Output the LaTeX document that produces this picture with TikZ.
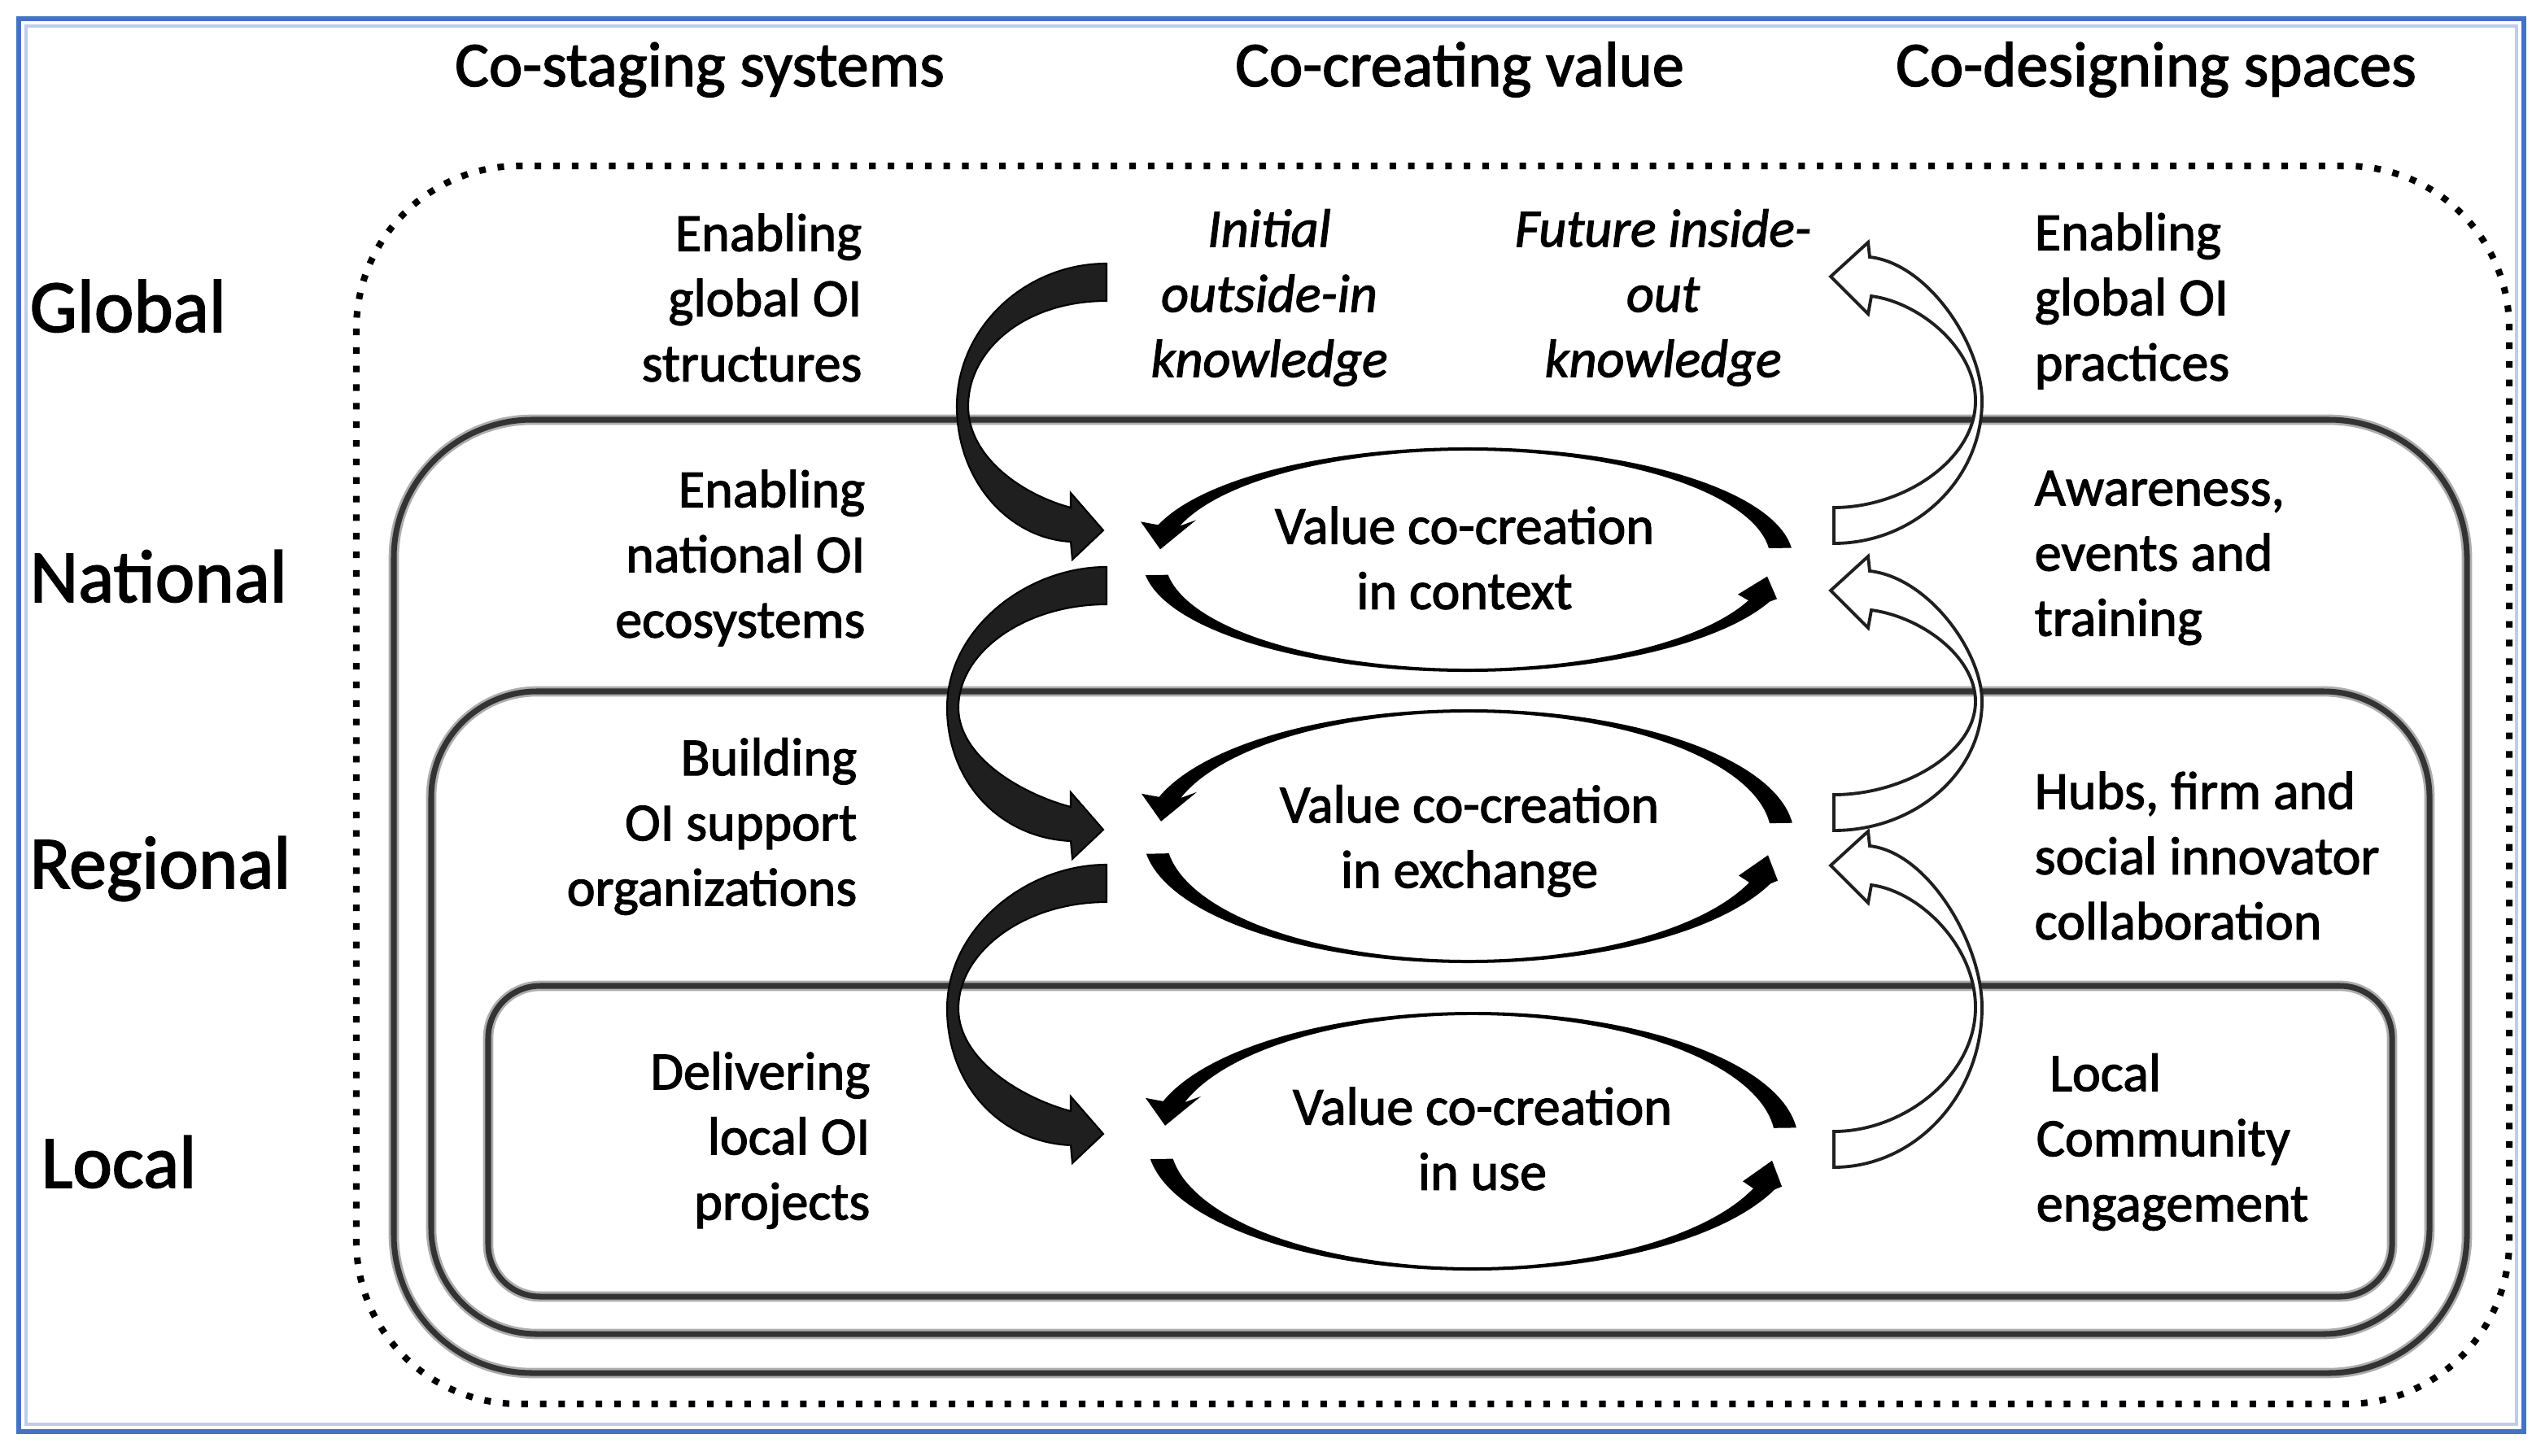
\documentclass[tikz,border=0pt]{standalone}
\usepackage{fontspec}
\setmainfont{Carlito}[FakeBold=1.8]
\definecolor{framblue}{RGB}{68,114,196}
\definecolor{framlight}{RGB}{190,205,234}

% black block arrow on the left (tail up, head down-right)
\newcommand{\blackbend}[3]{% #1 tail centre y, #2 tip y, #3 leftmost x
  \pgfmathsetmacro{\bym}{(#1+#2)/2}%
  \pgfmathsetmacro{\byA}{#1-11.5}%
  \pgfmathsetmacro{\byB}{#1+11.5}%
  \pgfmathsetmacro{\bcA}{\bym-0.55*(\bym-\byA)}%
  \pgfmathsetmacro{\bcB}{\bym+0.55*(#2+7-\bym)}%
  \pgfmathsetmacro{\bcC}{\bym+0.5*(#2-14-\bym)}%
  \pgfmathsetmacro{\bcD}{\bym-0.54*(\bym-\byB)}%
  \pgfmathsetmacro{\bxi}{#3+7}%
  \pgfmathsetmacro{\bxc}{#3+32}%
  \path[blackarrow] (680,\byA) .. controls (630,\byA) and (#3,\bcA) .. (#3,\bym)
    .. controls (#3,\bcB) and (\bxc,{#2+5}) .. (658,{#2+7})
    -- (659,{#2+18}) -- (678,#2) -- (658,{#2-23}) -- (658,{#2-14})
    .. controls (628,{#2-22}) and (\bxi,\bcC) .. (\bxi,\bym)
    .. controls (\bxi,\bcD) and (630,\byB) .. (680,\byB) -- cycle;}

% white outlined block arrow on the right (tail down, head up-left)
\newcommand{\whitebend}[3]{% #1 tail centre y, #2 tip y, #3 rightmost x
  \pgfmathsetmacro{\wym}{(#1+#2)/2}%
  \pgfmathsetmacro{\wcA}{\wym-0.45*(\wym-#2)}%
  \pgfmathsetmacro{\wcB}{\wym+0.55*(#1+11-\wym)}%
  \pgfmathsetmacro{\wcC}{\wym+0.55*(#1-11-\wym)}%
  \pgfmathsetmacro{\wcD}{\wym-0.5*(\wym-#2-12)}%
  \pgfmathsetmacro{\wxi}{#3-4}%
  \path[whitearrow] (1125,#2) -- (1148,{#2-21}) -- (1149,{#2-12})
    .. controls (1185,{#2-8}) and (#3,\wcA) .. (#3,\wym)
    .. controls (#3,\wcB) and (1177,{#1+11}) .. (1127,{#1+11})
    -- (1127,{#1-11})
    .. controls (1170,{#1-11}) and (\wxi,\wcC) .. (\wxi,\wym)
    .. controls (\wxi,\wcD) and (1180,{#2+16}) .. (1150,{#2+12})
    -- (1148,{#2+23}) -- cycle;}

% two tapered arcs round a value co-creation label
\newcommand{\valuecycle}[3]{% cx, cy, ry
  \pgfmathsetmacro{\vri}{#3-2}%
  \begin{scope}[shift={(#1,#2)}]
    \fill[cyclearc] (-6:186 and \vri) -- (-6:200 and #3)
      arc[start angle=-6, end angle=-162, x radius=200, y radius=#3]
      -- (-201,{-0.309*#3-2}) -- (-189,{-0.309*#3+15}) -- (-167,{-0.309*#3-3})
      -- (-162:186 and \vri)
      arc[start angle=-162, end angle=-6, x radius=186, y radius=\vri] -- cycle;
    \fill[cyclearc] (172:186 and \vri) -- (172:200 and #3)
      arc[start angle=172, end angle=22, x radius=200, y radius=#3]
      -- (190,{0.35*#3}) -- (184,{0.15*#3}) -- (166,{0.31*#3})
      -- (22:186 and \vri)
      arc[start angle=22, end angle=172, x radius=186, y radius=\vri] -- cycle;
  \end{scope}}

\begin{document}
\begin{tikzpicture}[x=0.02cm,y=-0.02cm,
  bodytxt/.style={font=\fontsize{18.8}{22.8}\selectfont, inner sep=0pt},
  lefttxt/.style={bodytxt, align=right, anchor=east},
  righttxt/.style={bodytxt, align=left, anchor=west},
  midtxt/.style={font=\fontsize{18.8}{22.8}\selectfont\itshape, inner sep=0pt, align=center},
  colhead/.style={font=\fontsize{22.3}{26}\selectfont, inner sep=0pt, anchor=base},
  rowlab/.style={font=\fontsize{26.2}{30}\selectfont, inner sep=0pt, anchor=base west},
  ringhalo/.style={line width=3.6pt, draw=black!32},
  ringcore/.style={line width=2pt, draw=black!80},
  dotring/.style={line width=2.3pt, dash pattern=on 2.3pt off 4.2pt, draw=black},
  blackarrow/.style={fill=black!88, draw=black, line width=0.6pt, line join=miter},
  whitearrow/.style={fill=white, draw=black!88, line width=1.1pt, line join=miter},
  cyclearc/.style={fill=black}]
\useasboundingbox (0,0) rectangle (1564,895);

% frame
\draw[framblue, line width=1.7pt] (11.5,11.5) rectangle (1551,880);
\draw[framlight, line width=0.9pt] (16,16) rectangle (1546.5,875.5);

% nested levels
\draw[dotring, rounded corners=2cm] (219,102) rectangle (1542,863);
\foreach \st in {ringhalo,ringcore}{
  \draw[\st, rounded corners=1.7cm] (242,258) rectangle (1516,844);
  \draw[\st, rounded corners=1.3cm] (265,425) rectangle (1493,820);
  \draw[\st, rounded corners=0.64cm] (300,606) rectangle (1470,797);
}

% headers
\node[colhead] (hsys) at (430,53) {Co-staging systems};
\node[colhead] (hval) at (897,53) {Co-creating value};
\node[colhead] (hspa) at (1325,53) {Co-designing spaces};

% row labels
\node[rowlab] (rglobal) at (18,204) {Global};
\node[rowlab] (rnational) at (18,370) {National};
\node[rowlab] (rregional) at (18,546) {Regional};
\node[rowlab] (rlocal) at (25,730) {Local};

% left column
\node[lefttxt] (ls1) at (530,183) {Enabling\\global OI\\structures};
\node[lefttxt] (ls2) at (532,343) {Enabling\\national OI\\ecosystems};
\node[lefttxt] (ls3) at (527,508) {Building\\OI support\\organizations};
\node[lefttxt] (ls4) at (535,701) {Delivering\\local OI\\projects};

% knowledge labels
\node[midtxt] (kin) at (780,183) {Initial\\outside-in\\knowledge};
\node[midtxt] (kout) at (1022,183) {Future inside-\\out\\knowledge};

% right column
\node[righttxt] (rs1) at (1250,185) {Enabling\\global OI\\practices};
\node[righttxt] (rs2) at (1250,343) {Awareness,\\events and\\training};
\node[righttxt] (rs3) at (1250,526) {Hubs, firm and\\social innovator\\collaboration};
\node[righttxt] (rs4) at (1251,702) {\hspace*{0.25em}Local\\Community\\engagement};

% value co-creation cycles
\valuecycle{902}{344}{69}
\valuecycle{902.5}{514}{78}
\valuecycle{905}{701.5}{79.5}
\node[bodytxt, align=center] (vctx) at (900,343) {Value co-creation\\in context};
\node[bodytxt, align=center] (vexc) at (903,517) {Value co-creation\\in exchange};
\node[bodytxt, align=center] (vuse) at (911,700) {Value co-creation\\in use};

% black arrows (left)
\blackbend{173.5}{326}{588}
\blackbend{360}{510}{582}
\blackbend{543}{697}{582}

% white arrows (right)
\whitebend{323}{170}{1218}
\whitebend{499.5}{363}{1218}
\whitebend{706.5}{532}{1218}
\end{tikzpicture}
\end{document}
